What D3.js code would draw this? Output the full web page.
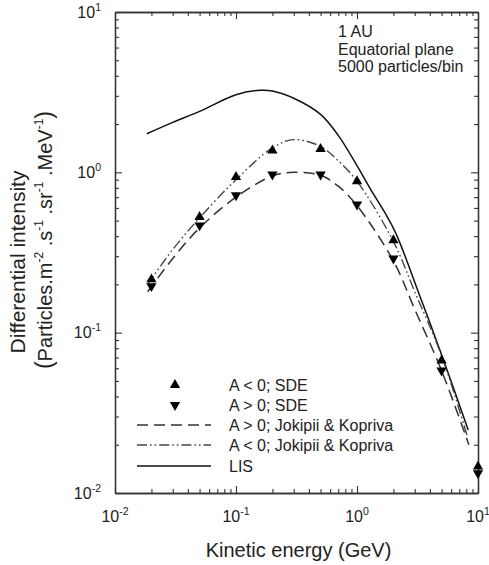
<!DOCTYPE html>
<html>
<head>
<meta charset="utf-8">
<script src="https://cdn.jsdelivr.net/npm/d3@7"></script>
<style>
  html, body { margin: 0; padding: 0; background: #fff; }
  svg { display: block; font-family: "Liberation Sans", Arial, sans-serif; }
</style>
</head>
<body>
<svg id="chart" width="489" height="565"></svg>
<script>
// Kinetic energy (GeV) and differential intensity for each series
const lisEnergy = [0.0183, 0.03, 0.05, 0.1, 0.158, 0.2, 0.3, 0.5, 0.7, 1.0, 1.3, 1.7, 2.1, 3.3, 5.1, 8.3];
const lisFlux   = [1.74, 2.05, 2.4, 3.05, 3.25, 3.22, 2.9, 2.3, 1.7, 1.1, 0.78, 0.56, 0.415, 0.17, 0.07, 0.0247];

const jkPosEnergy = [0.0186, 0.03, 0.05, 0.1, 0.2, 0.3, 0.5, 0.7, 1.0, 2.0, 3.0, 5.0, 8.4];
const jkPosFlux   = [0.18, 0.29, 0.45, 0.70, 0.95, 1.0, 0.96, 0.82, 0.62, 0.28, 0.14, 0.058, 0.0200];

const jkNegEnergy = [0.0186, 0.03, 0.05, 0.1, 0.2, 0.3, 0.5, 0.7, 1.0, 2.0, 3.0, 5.0, 8.1];
const jkNegFlux   = [0.20, 0.33, 0.52, 0.90, 1.42, 1.6, 1.45, 1.18, 0.88, 0.37, 0.18, 0.072, 0.023];

const sdeEnergy  = [0.02, 0.05, 0.1, 0.2, 0.5, 1.0, 2.0, 5.0, 10.0];
const sdeNegFlux = [0.215, 0.527, 0.935, 1.37, 1.40, 0.88, 0.377, 0.067, 0.0146];  // A < 0
const sdePosFlux = [0.195, 0.467, 0.719, 0.97, 0.97, 0.63, 0.29, 0.058, 0.0133];   // A > 0

const decadeTicks = [0.01, 0.1, 1, 10];
const decadeExponents = ["-2", "-1", "0", "1"];

const legendLabels = ["A < 0; SDE", "A > 0; SDE", "A > 0; Jokipii & Kopriva", "A < 0; Jokipii & Kopriva", "LIS"];
const noteLines = ["1 AU", "Equatorial plane", "5000 particles/bin"];

const svg = d3.select("#chart");
const plot = { left: 115, right: 478, top: 12, bottom: 493 };

const x = d3.scaleLog().domain([0.01, 10]).range([plot.left, plot.right]);
const y = d3.scaleLog().domain([0.01, 10]).range([plot.bottom, plot.top]);

const minorTicks = [];
decadeTicks.slice(0, 3).forEach(d => { for (let k = 2; k <= 9; k++) minorTicks.push(k * d); });

const axisColor = "#333";

function styleAxis(g) {
  g.select(".domain").attr("stroke", axisColor).attr("stroke-width", 1.3);
  g.selectAll(".tick line").attr("stroke", axisColor).attr("stroke-width", 1.1);
}

// Frame: ticks on all four sides, pointing inward
const axes = [
  { make: d3.axisBottom(x), t: `translate(0,${plot.bottom})` },
  { make: d3.axisTop(x),    t: `translate(0,${plot.top})` },
  { make: d3.axisLeft(y),   t: `translate(${plot.left},0)` },
  { make: d3.axisRight(y),  t: `translate(${plot.right},0)` }
];
axes.forEach(a => {
  svg.append("g").attr("transform", a.t)
    .call(a.make.tickValues(decadeTicks).tickSize(-7).tickSizeOuter(0).tickFormat(""))
    .call(styleAxis);
  svg.append("g").attr("transform", a.t)
    .call(a.make.tickValues(minorTicks).tickSize(-4).tickSizeOuter(0).tickFormat(""))
    .call(styleAxis);
});

// Power-of-ten labels
function powerLabel(sel, exp) {
  sel.append("tspan").text("10");
  sel.append("tspan").attr("font-size", 10.5).attr("dy", -7).text(exp);
}
decadeTicks.forEach((d, i) => {
  const tx = svg.append("text")
    .attr("x", x(d)).attr("y", 522)
    .attr("text-anchor", "middle")
    .attr("font-size", 16).attr("fill", "#222");
  powerLabel(tx, decadeExponents[i]);

  const ty = svg.append("text")
    .attr("x", 101).attr("y", y(d) + 5.5)
    .attr("text-anchor", "end")
    .attr("font-size", 16).attr("fill", "#222");
  powerLabel(ty, decadeExponents[i]);
});

// Axis titles
svg.append("text")
  .attr("x", (plot.left + plot.right) / 2 + 2).attr("y", 557)
  .attr("text-anchor", "middle").attr("font-size", 20).attr("fill", "#222")
  .text("Kinetic energy (GeV)");

svg.append("text")
  .attr("transform", "translate(25,262) rotate(-90)")
  .attr("text-anchor", "middle").attr("font-size", 21).attr("fill", "#222")
  .text("Differential intensity");

const unitTitle = svg.append("text")
  .attr("transform", "translate(52,240) rotate(-90)")
  .attr("text-anchor", "middle").attr("font-size", 20).attr("fill", "#222");
const unitParts = [["(", 0], ["Particles.m", 0], ["-2", 1], [" .s", 0], ["-1", 1], [" .sr", 0], ["-1", 1], [" .MeV", 0], ["-1", 1], [")", 0]];
let raised = false;
unitParts.forEach(([s, sup]) => {
  const ts = unitTitle.append("tspan").text(s);
  if (sup && !raised) { ts.attr("dy", -9).attr("font-size", 12); raised = true; }
  else if (sup) { ts.attr("font-size", 12); }
  else if (raised) { ts.attr("dy", 9); raised = false; }
  if (s === "(" || s === ")") ts.attr("font-size", 23);
});

// Curves
const line = d3.line()
  .x(d => x(d[0])).y(d => y(d[1]))
  .curve(d3.curveCatmullRom.alpha(0.5));

const series = [
  { e: lisEnergy,   v: lisFlux,   stroke: "#111", width: 1.5, dash: null },
  { e: jkPosEnergy, v: jkPosFlux, stroke: "#333", width: 1.5, dash: "11,6" },
  { e: jkNegEnergy, v: jkNegFlux, stroke: "#444", width: 1.4, dash: "10,3,1.6,3,1.6,3" }
];
series.forEach(s => {
  svg.append("path")
    .datum(d3.zip(s.e, s.v))
    .attr("d", line)
    .attr("fill", "none")
    .attr("stroke", s.stroke)
    .attr("stroke-width", s.width)
    .attr("stroke-dasharray", s.dash);
});

// SDE markers
const tri = d3.symbol().type(d3.symbolTriangle).size(46);
svg.append("g").selectAll("path")
  .data(d3.zip(sdeEnergy, sdeNegFlux))
  .join("path")
  .attr("d", tri)
  .attr("transform", d => `translate(${x(d[0])},${y(d[1])})`)
  .attr("fill", "#000");
svg.append("g").selectAll("path")
  .data(d3.zip(sdeEnergy, sdePosFlux))
  .join("path")
  .attr("d", tri)
  .attr("transform", d => `translate(${x(d[0])},${y(d[1])}) rotate(180)`)
  .attr("fill", "#000");

// Legend
const legendRows = [385, 405, 425, 445, 466];
const legend = svg.append("g");
legendLabels.forEach((lab, i) => {
  const ry = legendRows[i];
  if (i === 0) legend.append("path").attr("d", tri).attr("transform", `translate(175,${ry})`).attr("fill", "#000");
  if (i === 1) legend.append("path").attr("d", tri).attr("transform", `translate(175,${ry}) rotate(180)`).attr("fill", "#000");
  if (i >= 2) {
    const s = series[i === 2 ? 1 : i === 3 ? 2 : 0];
    legend.append("line")
      .attr("x1", 137).attr("x2", 211).attr("y1", ry).attr("y2", ry)
      .attr("stroke", s.stroke).attr("stroke-width", s.width)
      .attr("stroke-dasharray", s.dash);
  }
  legend.append("text")
    .attr("x", 229).attr("y", ry + 5.5)
    .attr("font-size", 16).attr("fill", "#222")
    .text(lab);
});

// Run conditions note
svg.append("g").selectAll("text")
  .data(noteLines)
  .join("text")
  .attr("x", 338).attr("y", (d, i) => 37 + i * 17.5)
  .attr("font-size", 16).attr("fill", "#222")
  .text(d => d);
</script>
</body>
</html>
